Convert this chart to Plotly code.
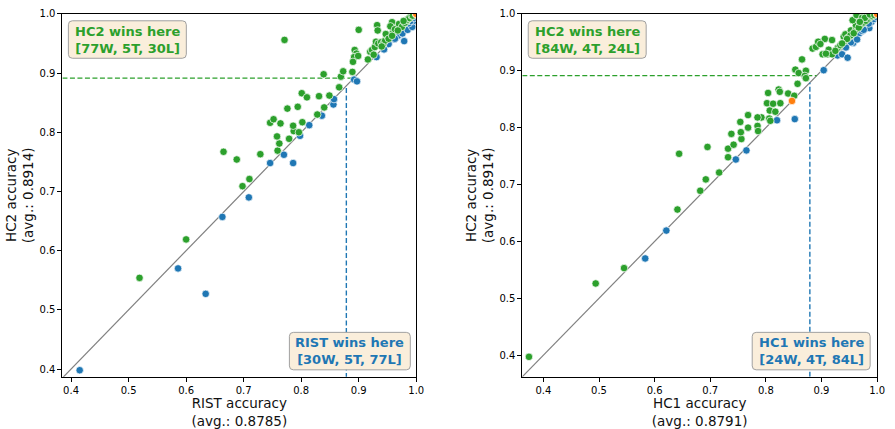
import plotly.graph_objects as go

# ---- pairwise accuracies: (x-method, HC2) per dataset ----
# Left panel: RIST vs HC2
rist_hc2_win_x = [0.519, 0.600, 0.665, 0.688, 0.698, 0.710, 0.729, 0.771, 0.900, 0.759,
                  0.762, 0.758, 0.779, 0.787, 0.796, 0.786, 0.802, 0.746, 0.752, 0.764,
                  0.776, 0.794, 0.801, 0.810, 0.828, 0.831, 0.840, 0.849, 0.866, 0.839,
                  0.869, 0.873, 0.893, 0.896, 0.892, 0.890, 0.920, 0.923, 0.928, 0.930,
                  0.934, 0.939, 0.943, 0.946, 0.949, 0.955, 0.960, 0.966, 0.972, 0.977,
                  0.983, 0.986, 0.991, 0.995, 0.932, 0.933, 0.958, 0.955, 0.889, 0.899,
                  0.916, 0.947, 0.952, 0.963, 0.970, 0.975, 0.980, 0.984, 0.988, 0.992,
                  0.997, 0.994, 0.968, 0.940, 0.926, 0.958, 0.978]
rist_hc2_win_y = [0.554, 0.619, 0.767, 0.754, 0.709, 0.721, 0.763, 0.956, 0.973, 0.769,
                  0.781, 0.793, 0.789, 0.802, 0.800, 0.811, 0.817, 0.816, 0.822, 0.815,
                  0.840, 0.843, 0.866, 0.859, 0.830, 0.861, 0.842, 0.862, 0.876, 0.898,
                  0.894, 0.903, 0.939, 0.933, 0.927, 0.919, 0.936, 0.939, 0.944, 0.953,
                  0.950, 0.952, 0.950, 0.955, 0.963, 0.965, 0.969, 0.974, 0.978, 0.982,
                  0.987, 0.991, 0.995, 0.998, 0.981, 0.972, 0.986, 0.979, 0.902, 0.929,
                  0.923, 0.966, 0.958, 0.974, 0.983, 0.978, 0.985, 0.990, 0.993, 0.997,
                  0.999, 0.997, 0.972, 0.945, 0.931, 0.963, 0.988]
rist_other_win_x = [0.415, 0.586, 0.634, 0.663, 0.709, 0.746, 0.786, 0.770, 0.798, 0.814,
                    0.836, 0.856, 0.857, 0.931, 0.979, 0.968, 0.976, 0.985, 0.993, 0.995,
                    0.962, 0.892, 0.897, 0.963, 0.987, 0.990, 0.997, 0.999, 0.952, 0.944]
rist_other_win_y = [0.398, 0.570, 0.527, 0.657, 0.690, 0.748, 0.748, 0.762, 0.794, 0.812,
                    0.828, 0.847, 0.856, 0.927, 0.954, 0.963, 0.967, 0.973, 0.978, 0.988,
                    0.957, 0.889, 0.886, 0.958, 0.984, 0.988, 0.993, 0.996, 0.949, 0.940]
rist_tie_x = [1.0, 1.0, 1.0, 1.0, 1.0]
rist_tie_y = [1.0, 1.0, 1.0, 1.0, 1.0]

# Right panel: HC1 vs HC2
hc1_hc2_win_x = [0.374, 0.494, 0.545, 0.641, 0.644, 0.682, 0.692, 0.695, 0.716, 0.732,
                 0.732, 0.738, 0.742, 0.756, 0.755, 0.768, 0.754, 0.785, 0.786, 0.768,
                 0.792, 0.806, 0.807, 0.817, 0.802, 0.813, 0.826, 0.804, 0.823, 0.825,
                 0.840, 0.851, 0.857, 0.853, 0.859, 0.865, 0.872, 0.870, 0.872, 0.884,
                 0.890, 0.896, 0.906, 0.919, 0.902, 0.913, 0.911, 0.919, 0.929, 0.941,
                 0.940, 0.943, 0.953, 0.962, 0.962, 0.970, 0.956, 0.963, 0.973, 0.982,
                 0.894, 0.808, 0.785, 0.925, 0.934, 0.948, 0.952, 0.958, 0.967, 0.976,
                 0.980, 0.985, 0.989, 0.993, 0.996, 0.991, 0.978, 0.987, 0.946, 0.937,
                 0.898, 0.908, 0.969, 0.995]
hc1_hc2_win_y = [0.397, 0.526, 0.553, 0.656, 0.754, 0.689, 0.709, 0.766, 0.721, 0.763,
                 0.748, 0.789, 0.770, 0.780, 0.792, 0.800, 0.810, 0.803, 0.794, 0.822,
                 0.818, 0.816, 0.830, 0.828, 0.843, 0.842, 0.843, 0.861, 0.867, 0.863,
                 0.860, 0.856, 0.877, 0.902, 0.896, 0.920, 0.900, 0.891, 0.887, 0.939,
                 0.942, 0.950, 0.956, 0.954, 0.929, 0.937, 0.929, 0.929, 0.940, 0.952,
                 0.960, 0.964, 0.971, 0.973, 0.980, 0.980, 0.989, 0.998, 0.993, 0.997,
                 0.951, 0.812, 0.818, 0.935, 0.945, 0.958, 0.962, 0.966, 0.976, 0.985,
                 0.988, 0.992, 0.995, 0.998, 0.999, 0.996, 0.993, 0.999, 0.956, 0.948,
                 0.947, 0.930, 0.986, 0.998]
hc1_other_win_x = [0.583, 0.621, 0.746, 0.765, 0.820, 0.852, 0.904, 0.929, 0.937, 0.947,
                   0.961, 0.957, 0.968, 0.973, 0.981, 0.986, 0.953, 0.964, 0.976, 0.990,
                   0.994, 0.998, 0.944, 0.985]
hc1_other_win_y = [0.570, 0.619, 0.744, 0.760, 0.813, 0.815, 0.901, 0.927, 0.929, 0.923,
                   0.958, 0.949, 0.966, 0.970, 0.979, 0.975, 0.950, 0.955, 0.972, 0.986,
                   0.991, 0.995, 0.941, 0.983]
hc1_tie_x = [0.847, 1.0, 1.0, 1.0]
hc1_tie_y = [0.847, 1.0, 1.0, 1.0]

# Averages and axis settings
avg_rist = 0.8785
avg_hc1 = 0.8791
avg_hc2 = 0.8914
left_range = [0.385, 1.0]
left_yrange = [0.387, 1.0]
right_range = [0.362, 1.0]
tick_vals = [0.4, 0.5, 0.6, 0.7, 0.8, 0.9, 1.0]
tick_text = ["0.4", "0.5", "0.6", "0.7", "0.8", "0.9", "1.0"]

GREEN = "#2ca02c"
BLUE = "#1f77b4"
ORANGE = "#ff7f0e"
FONT = "DejaVu Sans"

W, H = 895, 429
fig = go.Figure()


def add_panel(xa, ya, win_x, win_y, oth_x, oth_y, tie_x, tie_y, avg_x, avg_y, lo):
    # identity diagonal
    fig.add_trace(go.Scatter(x=[0, 1], y=[0, 1], mode="lines", xaxis=xa, yaxis=ya,
                             line=dict(color="#808080", width=1.2), showlegend=False,
                             hoverinfo="skip"))
    # average markers
    fig.add_trace(go.Scatter(x=[avg_x, avg_x], y=[lo, avg_x], mode="lines", xaxis=xa, yaxis=ya,
                             line=dict(color=BLUE, width=1.4, dash="5px,2.5px"),
                             showlegend=False, hoverinfo="skip"))
    fig.add_trace(go.Scatter(x=[lo, avg_y], y=[avg_y, avg_y], mode="lines", xaxis=xa, yaxis=ya,
                             line=dict(color=GREEN, width=1.4, dash="5px,2.5px"),
                             showlegend=False, hoverinfo="skip"))
    mk = dict(size=7.5, line=dict(color="white", width=0.7))
    for xs, ys, c in ((oth_x, oth_y, BLUE), (win_x, win_y, GREEN), (tie_x, tie_y, ORANGE)):
        fig.add_trace(go.Scatter(x=xs, y=ys, mode="markers", xaxis=xa, yaxis=ya,
                                 marker=dict(color=c, **mk), showlegend=False))


add_panel("x", "y", rist_hc2_win_x, rist_hc2_win_y, rist_other_win_x, rist_other_win_y,
          rist_tie_x, rist_tie_y, avg_rist, avg_hc2, left_range[0])
add_panel("x2", "y2", hc1_hc2_win_x, hc1_hc2_win_y, hc1_other_win_x, hc1_other_win_y,
          hc1_tie_x, hc1_tie_y, avg_hc1, avg_hc2, right_range[0])

ax_common = dict(showline=True, linecolor="black", linewidth=1, mirror=True,
                 ticks="outside", ticklen=4, tickwidth=1, tickcolor="black",
                 showgrid=False, zeroline=False, tickvals=tick_vals, ticktext=tick_text,
                 tickfont=dict(family=FONT, size=10, color="black"))
title_font = dict(family=FONT, size=13.5, color="#111111")

y0, y1 = (H - 376) / H, (H - 8) / H
fig.update_layout(
    width=W, height=H, margin=dict(l=0, r=0, t=0, b=0),
    paper_bgcolor="white", plot_bgcolor="white",
    xaxis=dict(domain=[63 / W, 420 / W], range=left_range, anchor="y",
               title=dict(text="RIST accuracy<br>(avg.: 0.8785)", font=title_font, standoff=1),
               **ax_common),
    yaxis=dict(domain=[y0, y1], range=left_yrange, anchor="x",
               title=dict(text="HC2 accuracy<br>(avg.: 0.8914)", font=title_font, standoff=2),
               **ax_common),
    xaxis2=dict(domain=[527 / W, 885 / W], range=right_range, anchor="y2",
                title=dict(text="HC1 accuracy<br>(avg.: 0.8791)", font=title_font, standoff=1),
                **ax_common),
    yaxis2=dict(domain=[y0, y1], range=right_range, anchor="x2",
                title=dict(text="HC2 accuracy<br>(avg.: 0.8914)", font=title_font, standoff=2),
                **ax_common),
)


def rounded_box(x0, y0_, x1, y1_, r=4):
    """Rounded rectangle in pixel coordinates (top-left origin) -> paper path."""
    def P(px, py):
        return f"{px / W:.5f},{1 - py / H:.5f}"
    path = (f"M {P(x0 + r, y0_)} L {P(x1 - r, y0_)} Q {P(x1, y0_)} {P(x1, y0_ + r)} "
            f"L {P(x1, y1_ - r)} Q {P(x1, y1_)} {P(x1 - r, y1_)} "
            f"L {P(x0 + r, y1_)} Q {P(x0, y1_)} {P(x0, y1_ - r)} "
            f"L {P(x0, y0_ + r)} Q {P(x0, y0_)} {P(x0 + r, y0_)} Z")
    fig.add_shape(type="path", path=path, xref="paper", yref="paper",
                  fillcolor="#faeedb", line=dict(color="#a0a0a0", width=1), layer="above")


def label(x0, y0_, x1, y1_, text, color):
    rounded_box(x0, y0_, x1, y1_)
    fig.add_annotation(x=(x0 + x1) / 2 / W, y=1 - (y0_ + y1_) / 2 / H, xref="paper",
                       yref="paper", xanchor="center", yanchor="middle", showarrow=False,
                       align="center", text=text,
                       font=dict(family=FONT, size=13, color=color))


label(69, 15, 188, 53, "<b>HC2 wins here<br>[77W, 5T, 30L]</b>", GREEN)
label(292, 331, 414, 369, "<b>RIST wins here<br>[30W, 5T, 77L]</b>", BLUE)
label(533, 15, 652, 53, "<b>HC2 wins here<br>[84W, 4T, 24L]</b>", GREEN)
label(759, 331, 878, 369, "<b>HC1 wins here<br>[24W, 4T, 84L]</b>", BLUE)

fig.write_html("out.html")
